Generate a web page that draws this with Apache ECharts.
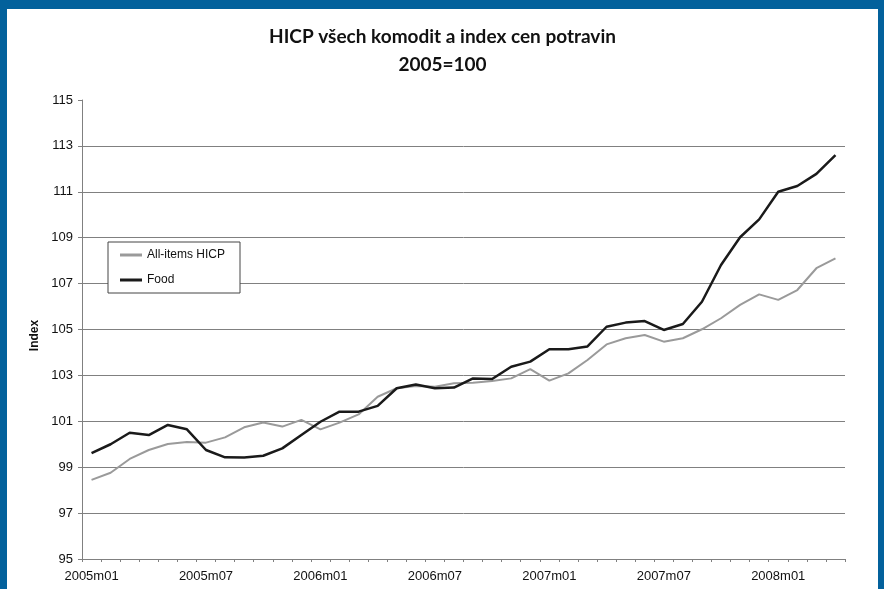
<!DOCTYPE html>
<html>
<head>
<meta charset="utf-8">
<script src="https://cdn.jsdelivr.net/npm/echarts@6/dist/echarts.min.js"></script>
<style>
  html, body { margin: 0; padding: 0; width: 884px; height: 589px; background: #03619c; overflow: hidden; }
  #chart { position: absolute; left: 7px; top: 9px; width: 871px; height: 580px; background: #ffffff; }
</style>
</head>
<body>
<div id="chart"></div>
<script>
// Monthly periods, 2005m01 .. 2008m04
const months = [
  '2005m01','2005m02','2005m03','2005m04','2005m05','2005m06','2005m07','2005m08','2005m09','2005m10','2005m11','2005m12',
  '2006m01','2006m02','2006m03','2006m04','2006m05','2006m06','2006m07','2006m08','2006m09','2006m10','2006m11','2006m12',
  '2007m01','2007m02','2007m03','2007m04','2007m05','2007m06','2007m07','2007m08','2007m09','2007m10','2007m11','2007m12',
  '2008m01','2008m02','2008m03','2008m04'
];

// All-items HICP, 2005 = 100
const hicpAll = [
  98.45, 98.76, 99.36, 99.75, 100.01, 100.10, 100.07, 100.30, 100.74, 100.95, 100.77, 101.06,
  100.65, 100.94, 101.30, 102.07, 102.44, 102.54, 102.51, 102.66, 102.68, 102.76, 102.87, 103.27,
  102.77, 103.09, 103.67, 104.35, 104.62, 104.76, 104.47, 104.62, 105.01, 105.49, 106.07, 106.53,
  106.29, 106.72, 107.67, 108.10
];

// Food price index, 2005 = 100
const hicpFood = [
  99.61, 100.00, 100.50, 100.40, 100.84, 100.65, 99.75, 99.43, 99.42, 99.50, 99.82, 100.40,
  100.98, 101.42, 101.42, 101.67, 102.44, 102.60, 102.44, 102.47, 102.87, 102.84, 103.38, 103.60,
  104.14, 104.14, 104.26, 105.12, 105.30, 105.37, 104.98, 105.24, 106.21, 107.81, 109.02, 109.80,
  111.00, 111.25, 111.78, 112.60
];

const seriesNames = ['All-items HICP', 'Food'];
const yTicks = { min: 95, max: 115, step: 2 };

const chart = echarts.init(document.getElementById('chart'), null, { renderer: 'canvas' });

const axisGrey = '#808080';
const labelFont = { fontFamily: '"Liberation Sans", Arial, sans-serif', fontSize: 13, color: '#111' };

chart.setOption({
  animation: false,
  backgroundColor: '#ffffff',
  title: {
    left: 'center',
    top: 9,
    text: 'HICP všech komodit a index cen potravin\n2005=100',
    textStyle: {
      fontFamily: 'Lato, "Open Sans", sans-serif',
      fontWeight: 'bold',
      fontSize: 19,
      lineHeight: 28,
      color: '#111'
    }
  },
  legend: {
    orient: 'vertical',
    left: 101,
    top: 233,
    padding: [7, 15, 7, 12],
    itemGap: 13,
    itemWidth: 22,
    itemHeight: 3,
    borderColor: '#444',
    borderWidth: 1,
    backgroundColor: '#fff',
    textStyle: { fontFamily: '"Liberation Sans", Arial, sans-serif', fontSize: 12, color: '#111' },
    data: [
      { name: seriesNames[0], icon: 'rect', itemStyle: { color: '#9a9a9a' } },
      { name: seriesNames[1], icon: 'rect', itemStyle: { color: '#1a1a1a' } }
    ]
  },
  grid: { left: 75, right: 33, top: 91, bottom: 30, containLabel: false },
  xAxis: {
    type: 'category',
    data: months,
    boundaryGap: true,
    axisLine: { lineStyle: { color: axisGrey, width: 1 } },
    axisTick: { show: true, interval: 0, length: 3, lineStyle: { color: axisGrey } },
    axisLabel: Object.assign({ interval: 5, margin: 11 }, labelFont),
    splitLine: { show: false }
  },
  yAxis: {
    type: 'value',
    min: yTicks.min,
    max: yTicks.max,
    interval: yTicks.step,
    name: 'Index',
    nameLocation: 'middle',
    nameGap: 38,
    nameTextStyle: {
      fontFamily: '"Liberation Sans", Arial, sans-serif',
      fontSize: 12,
      fontWeight: 'bold',
      color: '#111',
      padding: [0, 12, 0, 0]
    },
    axisLine: { show: true, lineStyle: { color: axisGrey, width: 1 } },
    axisTick: { show: true, length: 4, lineStyle: { color: axisGrey } },
    axisLabel: Object.assign({ margin: 9 }, labelFont),
    splitLine: { show: true, showMinLine: false, showMaxLine: false, lineStyle: { color: axisGrey, width: 1 } }
  },
  series: [
    {
      name: seriesNames[0],
      type: 'line',
      data: hicpAll,
      showSymbol: false,
      symbol: 'none',
      lineStyle: { color: '#9a9a9a', width: 2 },
      itemStyle: { color: '#9a9a9a' },
      z: 2
    },
    {
      name: seriesNames[1],
      type: 'line',
      data: hicpFood,
      showSymbol: false,
      symbol: 'none',
      lineStyle: { color: '#1a1a1a', width: 2.5 },
      itemStyle: { color: '#1a1a1a' },
      z: 3
    }
  ]
});
</script>
</body>
</html>
